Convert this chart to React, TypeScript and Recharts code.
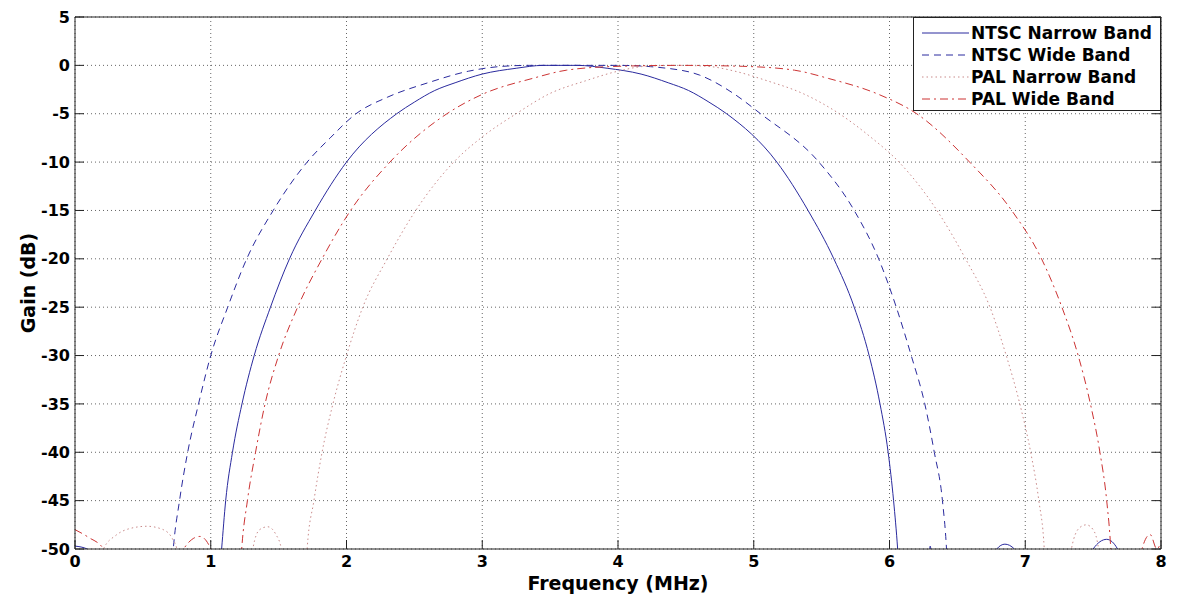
import { LineChart, Line, XAxis, YAxis, CartesianGrid } from 'recharts';

const freqTicks = [0, 1, 2, 3, 4, 5, 6, 7, 8];
const gainTicks = [5, 0, -5, -10, -15, -20, -25, -30, -35, -40, -45, -50];

const ntscNarrowFreq = [0, 0.09, 0.12, 1.02, 1.08, 1.11, 1.16, 1.23, 1.32, 1.44, 1.58, 1.77, 2.0, 2.37, 2.5, 2.65, 2.8, 3.0, 3.25, 3.45, 3.7, 3.92, 4.17, 4.37, 4.52, 4.67, 4.8, 5.17, 5.4, 5.59, 5.74, 5.85, 5.93, 5.99, 6.03, 6.06, 6.1, 6.26, 6.3, 6.34, 6.75, 6.79, 6.85, 6.92, 6.96, 7.45, 7.5, 7.6, 7.68, 7.72, 8];
const ntscNarrowGain = [-49.7, -50, -60, -60, -50, -45, -40, -35, -30, -25, -20, -15, -10, -5, -3.8, -2.6, -1.8, -0.9, -0.3, 0, 0, -0.3, -0.9, -1.8, -2.6, -3.8, -5, -10, -15, -20, -25, -30, -35, -40, -45, -50, -60, -60, -49.7, -60, -60, -50, -49.5, -50, -60, -60, -50, -49, -50, -60, -60];

const ntscWideFreq = [0, 0.68, 0.724, 0.77, 0.83, 0.91, 1.0, 1.125, 1.265, 1.46, 1.71, 1.88, 2.07, 2.3, 2.6, 2.9, 3.15, 3.35, 4.0, 4.36, 4.6, 4.85, 5.05, 5.48, 5.74, 5.92, 6.05, 6.16, 6.26, 6.33, 6.39, 6.42, 6.45, 8];
const ntscWideGain = [-60, -60, -50, -45, -40, -35, -30, -25, -20, -15, -10, -7.5, -5, -3.3, -1.8, -0.6, -0.1, 0, 0, -0.3, -1.0, -2.9, -5, -10, -15, -20, -25, -30, -35, -40, -45, -50, -60, -60];

const palNarrowFreq = [0, 0.18, 0.21, 0.3, 0.4, 0.53, 0.65, 0.72, 0.75, 0.78, 1.27, 1.31, 1.36, 1.42, 1.48, 1.52, 1.55, 1.68, 1.71, 1.76, 1.82, 1.9, 2.0, 2.12, 2.3, 2.51, 2.79, 3.0, 3.25, 3.5, 3.76, 4.0, 4.2, 4.45, 4.66, 4.86, 5.1, 5.36, 5.63, 5.86, 6.07, 6.35, 6.56, 6.74, 6.86, 6.96, 7.04, 7.1, 7.14, 7.17, 7.3, 7.34, 7.4, 7.45, 7.5, 7.54, 7.57, 8];
const palNarrowGain = [-60, -60, -50, -48.6, -47.9, -47.65, -48, -49, -50, -60, -60, -50, -48, -47.7, -48.5, -50, -60, -60, -50, -45, -40, -35, -30, -25, -20, -15, -10, -7.4, -5, -2.9, -1.6, -0.6, -0.1, 0, -0.1, -0.6, -1.6, -2.9, -5, -7.4, -10, -15, -20, -25, -30, -35, -40, -45, -50, -60, -60, -50, -47.8, -47.5, -48, -50, -60, -60];

const palWideFreq = [0, 0.1, 0.21, 0.25, 0.76, 0.8, 0.92, 1.0, 1.03, 1.19, 1.228, 1.27, 1.33, 1.4, 1.5, 1.64, 1.82, 2.03, 2.32, 2.74, 3.0, 3.37, 3.62, 4.0, 4.46, 4.92, 5.3, 5.55, 5.92, 6.2, 6.59, 6.9, 7.12, 7.27, 7.39, 7.48, 7.55, 7.6, 7.63, 7.66, 7.82, 7.86, 7.92, 7.97, 8];
const palWideGain = [-48, -48.8, -50, -60, -60, -50, -48.7, -50, -60, -60, -50, -45, -40, -35, -30, -25, -20, -15, -10, -5, -3, -1.35, -0.5, -0.1, 0, -0.1, -0.5, -1.35, -3, -5, -10, -15, -20, -25, -30, -35, -40, -45, -50, -60, -60, -50, -48.5, -50, -49.3];

const zip = (f: number[], g: number[]) => f.map((x, i) => ({ f: x, g: g[i] }));

const series = [
  { name: 'NTSC Narrow Band', data: zip(ntscNarrowFreq, ntscNarrowGain), color: '#2a2a9e', dash: undefined },
  { name: 'NTSC Wide Band', data: zip(ntscWideFreq, ntscWideGain), color: '#2a2a9e', dash: '7 5' },
  { name: 'PAL Narrow Band', data: zip(palNarrowFreq, palNarrowGain), color: '#c98a8a', dash: '1.5 3' },
  { name: 'PAL Wide Band', data: zip(palWideFreq, palWideGain), color: '#cc3333', dash: '8 4 2 4' },
];

const font = '"DejaVu Sans", sans-serif';
const tickStyle = { fontFamily: font, fontSize: 16, fontWeight: 'bold', fill: '#000' };
const titleStyle = { fontFamily: font, fontSize: 19, fontWeight: 'bold', fill: '#000' };
const blank = () => '';

const Chart = () => {
  return (
    <div style={{ position: 'absolute', left: 0, top: 0, width: 1177, height: 599, background: '#fff' }}>
      <LineChart width={1177} height={599} margin={{ top: 0, right: 0, bottom: 0, left: 0 }}>
        <CartesianGrid stroke="#666" strokeDasharray="1 3" />
        <XAxis
          dataKey="f"
          type="number"
          domain={[0, 8]}
          ticks={freqTicks}
          interval={0}
          height={50}
          stroke="#222"
          tickSize={-9}
          tickMargin={16}
          tick={tickStyle}
          label={{ value: 'Frequency (MHz)', position: 'insideBottom', offset: 9, style: titleStyle }}
        />
        <XAxis xAxisId="top" orientation="top" type="number" domain={[0, 8]} ticks={freqTicks} interval={0} height={17} stroke="#222" tickSize={-9} tickFormatter={blank} />
        <YAxis
          type="number"
          domain={[-50, 5]}
          ticks={gainTicks}
          interval={0}
          allowDataOverflow
          width={75}
          stroke="#222"
          tickSize={-9}
          tickMargin={14}
          tick={tickStyle}
          label={{ value: 'Gain (dB)', angle: -90, position: 'center', dx: -9, style: titleStyle }}
        />
        <YAxis yAxisId="right" orientation="right" type="number" domain={[-50, 5]} ticks={gainTicks} interval={0} allowDataOverflow width={16} stroke="#222" tickSize={-9} tickFormatter={blank} />
        {series.map((s) => (
          <Line
            key={s.name}
            data={s.data}
            dataKey="g"
            type="monotone"
            stroke={s.color}
            strokeWidth={1}
            strokeDasharray={s.dash}
            dot={false}
            activeDot={false}
            isAnimationActive={false}
          />
        ))}
      </LineChart>
      <div
        style={{
          position: 'absolute',
          left: 913,
          top: 17,
          width: 248,
          height: 94,
          boxSizing: 'border-box',
          border: '1px solid #222',
          background: '#fff',
          paddingTop: 4,
        }}
      >
        {series.map((s) => (
          <div key={s.name} style={{ display: 'flex', alignItems: 'center', height: 22 }}>
            <svg width={57} height={10} style={{ flex: 'none' }}>
              <line x1={8} x2={55} y1={5} y2={5} stroke={s.color} strokeWidth={1} strokeDasharray={s.dash} />
            </svg>
            <span style={{ fontFamily: font, fontSize: 17, fontWeight: 'bold', color: '#000', whiteSpace: 'nowrap' }}>{s.name}</span>
          </div>
        ))}
      </div>
    </div>
  );
};

export default Chart;
